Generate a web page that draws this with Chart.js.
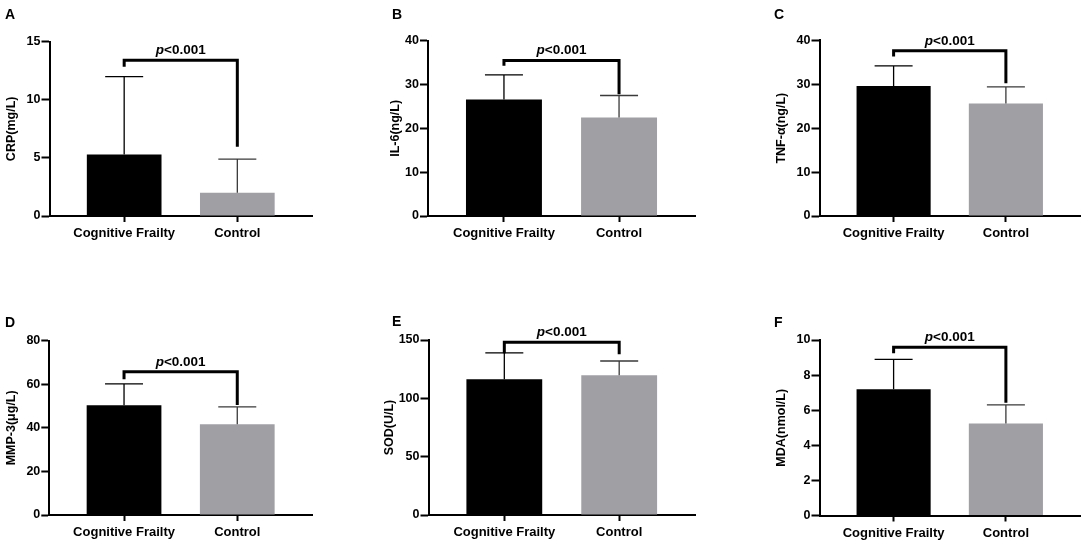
<!DOCTYPE html>
<html>
<head>
<meta charset="utf-8">
<script src="https://cdn.jsdelivr.net/npm/chart.js@4.4.1/dist/chart.umd.min.js"></script>
<style>
  body { margin: 0; background: #fff; }
  #wrap { position: relative; width: 1084px; height: 542px; overflow: hidden; }
  canvas { position: absolute; }
  .letter { position: absolute; font: bold 14px "Liberation Sans", Arial, sans-serif; color: #000; }
</style>
</head>
<body>
<div id="wrap"></div>
<script>
// groups on the x axis
const categories = ['Cognitive Frailty', 'Control'];
const panelLetters = ['A', 'B', 'C', 'D', 'E', 'F'];
const yTitles = ['CRP(mg/L)', 'IL-6(ng/L)', 'TNF-α(ng/L)', 'MMP-3(μg/L)', 'SOD(U/L)', 'MDA(nmol/L)'];

// mean and SD
const frailtyMeans = [5.3, 26.6, 29.6, 50.4, 116.3, 7.2];
const frailtySD = [6.7, 5.6, 4.6, 9.8, 22.6, 1.7];
const controlMeans = [2.0, 22.5, 25.6, 41.7, 119.7, 5.24];
const controlSD = [2.9, 5.0, 3.8, 7.9, 12.3, 1.06];

// y axis ranges
const yMax = [15, 40, 40, 80, 150, 10];
const yStep = [5, 10, 10, 20, 50, 2];

// significance brackets (in data units)
const pText = '<0.001';
const bracketLevel = [13.4, 35.5, 37.6, 65.8, 148, 9.58];
const bracketLeftEnd = [12.85, 34.3, 36.3, 62.3, 138.6, 9.24];
const bracketRightEnd = [5.96, 27.8, 30.2, 50.5, 137.7, 6.43];

const FONT = '"Liberation Sans", Arial, sans-serif';

// layout of each panel on the page
const canvasLeft = [0, 360, 720, 0, 360, 720];
const canvasTop = [0, 0, 0, 271, 271, 271];
const canvasW = [360, 360, 364, 360, 360, 364];
const canvasH = 271;
const padLeft = [4, 28, 54, 4, 22, 54];
const axisX = [49.5, 68, 99.5, 49.3, 68.5, 99.5];
const padRight = [48, 25, 4, 48, 25, 4];
const padTop = [41.7, 40.7, 40.3, 69.7, 69, 69];
const padBottom = [30, 30, 30, 2, 2, 1.5];
const letterPos = [[5, 6], [392, 6], [774, 6], [5, 314], [392, 313], [774, 314]];

const barColors = ['#000000', '#a09fa4'];
const errColors = ['#000000', '#3a3a3a'];

const wrap = document.getElementById('wrap');

const extrasPlugin = {
  id: 'extras',
  afterDatasetsDraw(chart) {
    const i = chart.options.plugins.extras.panel;
    const ctx = chart.ctx;
    const ys = chart.scales.y;
    const bars = chart.getDatasetMeta(0).data;
    const sds = [frailtySD[i], controlSD[i]];
    const means = [frailtyMeans[i], controlMeans[i]];
    ctx.save();
    // error bars (upper only)
    bars.forEach((b, k) => {
      const yTop = ys.getPixelForValue(means[k] + sds[k]);
      ctx.strokeStyle = errColors[k];
      ctx.lineWidth = 1.3;
      ctx.beginPath();
      ctx.moveTo(b.x, b.y);
      ctx.lineTo(b.x, yTop);
      ctx.moveTo(b.x - 19, yTop);
      ctx.lineTo(b.x + 19, yTop);
      ctx.stroke();
    });
    // bracket
    const x0 = bars[0].x, x1 = bars[1].x;
    const yl = ys.getPixelForValue(bracketLevel[i]);
    ctx.strokeStyle = '#000';
    ctx.lineWidth = 3;
    ctx.lineJoin = 'miter';
    ctx.beginPath();
    ctx.moveTo(x0, ys.getPixelForValue(bracketLeftEnd[i]));
    ctx.lineTo(x0, yl);
    ctx.lineTo(x1, yl);
    ctx.lineTo(x1, ys.getPixelForValue(bracketRightEnd[i]));
    ctx.stroke();
    // p label
    ctx.fillStyle = '#000';
    ctx.textBaseline = 'alphabetic';
    ctx.font = 'italic bold 13.5px ' + FONT;
    const wp = ctx.measureText('p').width;
    ctx.font = 'bold 13.5px ' + FONT;
    const wr = ctx.measureText(pText).width;
    const sx = (x0 + x1) / 2 - (wp + wr) / 2;
    ctx.font = 'italic bold 13.5px ' + FONT;
    ctx.fillText('p', sx, yl - 6);
    ctx.font = 'bold 13.5px ' + FONT;
    ctx.fillText(pText, sx + wp, yl - 6);
    ctx.restore();
  }
};

panelLetters.forEach((letter, i) => {
  const cv = document.createElement('canvas');
  cv.width = canvasW[i];
  cv.height = canvasH;
  cv.style.left = canvasLeft[i] + 'px';
  cv.style.top = canvasTop[i] + 'px';
  wrap.appendChild(cv);

  const lab = document.createElement('div');
  lab.className = 'letter';
  lab.textContent = letter;
  lab.style.left = letterPos[i][0] + 'px';
  lab.style.top = letterPos[i][1] + 'px';
  wrap.appendChild(lab);

  const yWidth = axisX[i] - padLeft[i];

  new Chart(cv, {
    type: 'bar',
    data: {
      datasets: [{
        data: [{ x: 0, y: frailtyMeans[i] }, { x: 1, y: controlMeans[i] }],
        backgroundColor: barColors,
        borderWidth: 0,
        barPercentage: 0.66,
        categoryPercentage: 1
      }]
    },
    options: {
      responsive: false,
      animation: false,
      layout: { padding: { left: padLeft[i], right: padRight[i], top: padTop[i], bottom: padBottom[i] } },
      plugins: {
        legend: { display: false },
        tooltip: { enabled: false },
        extras: { panel: i }
      },
      scales: {
        x: {
          type: 'linear',
          min: -0.66,
          max: 1.66,
          offset: false,
          afterBuildTicks: s => { s.ticks = categories.map((c, k) => ({ value: k })); },
          afterFit: s => { s.height = 25; },
          ticks: {
            callback: v => categories[v],
            autoSkip: false,
            maxRotation: 0,
            color: '#000',
            padding: 4,
            font: { family: FONT, size: 13, weight: 'bold' }
          },
          grid: { offset: false, drawOnChartArea: false, drawTicks: true, tickLength: 6, tickColor: '#000', tickWidth: 2 },
          border: { display: true, color: '#000', width: 2 }
        },
        y: {
          min: 0,
          max: yMax[i],
          afterFit: s => { s.width = yWidth; },
          ticks: {
            stepSize: yStep[i],
            color: '#000',
            padding: 1,
            font: { family: FONT, size: 12.5, weight: 'bold' }
          },
          title: {
            display: true,
            text: yTitles[i],
            color: '#000',
            padding: { top: 0, bottom: 0 },
            font: { family: FONT, size: 12.5, weight: 'bold' }
          },
          grid: { drawOnChartArea: false, drawTicks: true, tickLength: 8, tickColor: '#000', tickWidth: 2 },
          border: { display: true, color: '#000', width: 2 }
        }
      }
    },
    plugins: [extrasPlugin]
  });
});
</script>
</body>
</html>
